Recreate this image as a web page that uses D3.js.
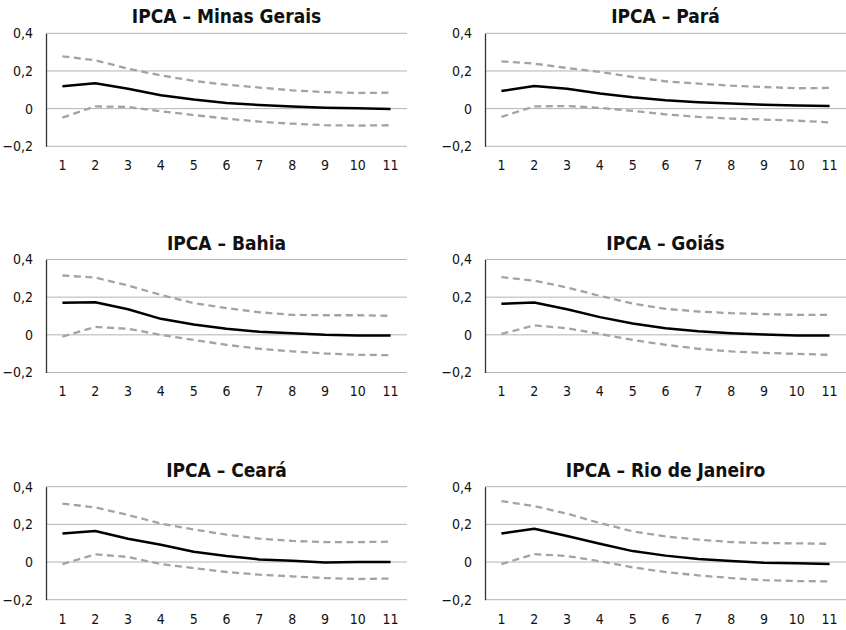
<!DOCTYPE html>
<meta charset="utf-8">
<title>IPCA impulse responses</title>
<style>
body { margin: 0; background: #fff; }
text { font-family: "DejaVu Sans Condensed", "Liberation Sans Narrow", sans-serif; }
</style>
<body>
<script src="https://d3js.org/d3.v7.min.js"></script>
<script>
var width = 846, height = 630;

var periods = [1, 2, 3, 4, 5, 6, 7, 8, 9, 10, 11];
var yTicks = [-0.2, 0, 0.2, 0.4];
var titles = ["IPCA – Minas Gerais", "IPCA – Pará", "IPCA – Bahia", "IPCA – Goiás", "IPCA – Ceará", "IPCA – Rio de Janeiro"];

// response, upper band, lower band for each state
var minasMid = [0.119, 0.135, 0.106, 0.071, 0.048, 0.030, 0.019, 0.011, 0.005, 0.002, -0.002];
var minasUp  = [0.278, 0.257, 0.212, 0.177, 0.147, 0.127, 0.112, 0.097, 0.088, 0.083, 0.085];
var minasLow = [-0.048, 0.012, 0.009, -0.014, -0.034, -0.053, -0.069, -0.080, -0.088, -0.090, -0.088];

var paraMid = [0.094, 0.120, 0.106, 0.080, 0.060, 0.044, 0.034, 0.027, 0.021, 0.016, 0.014];
var paraUp  = [0.251, 0.239, 0.216, 0.195, 0.168, 0.145, 0.133, 0.122, 0.115, 0.108, 0.110];
var paraLow = [-0.044, 0.012, 0.014, 0.004, -0.012, -0.030, -0.044, -0.053, -0.058, -0.064, -0.073];

var bahiaMid = [0.170, 0.173, 0.136, 0.085, 0.055, 0.032, 0.016, 0.009, 0.000, -0.004, -0.004];
var bahiaUp  = [0.315, 0.304, 0.262, 0.212, 0.168, 0.142, 0.120, 0.106, 0.104, 0.104, 0.101];
var bahiaLow = [-0.009, 0.042, 0.032, 0.000, -0.027, -0.053, -0.074, -0.088, -0.099, -0.106, -0.108];

var goiasMid = [0.165, 0.172, 0.136, 0.094, 0.060, 0.035, 0.019, 0.009, 0.002, -0.004, -0.004];
var goiasUp  = [0.306, 0.288, 0.251, 0.207, 0.166, 0.138, 0.124, 0.115, 0.110, 0.106, 0.106];
var goiasLow = [0.005, 0.050, 0.035, 0.005, -0.027, -0.053, -0.074, -0.088, -0.096, -0.101, -0.106];

var cearaMid = [0.152, 0.165, 0.124, 0.092, 0.055, 0.032, 0.014, 0.007, -0.002, 0.000, 0.000];
var cearaUp  = [0.310, 0.290, 0.250, 0.204, 0.173, 0.145, 0.124, 0.112, 0.106, 0.106, 0.108];
var cearaLow = [-0.011, 0.041, 0.027, -0.011, -0.032, -0.053, -0.067, -0.076, -0.085, -0.090, -0.088];

var rioMid = [0.152, 0.177, 0.138, 0.097, 0.058, 0.034, 0.016, 0.005, -0.004, -0.007, -0.011];
var rioUp  = [0.324, 0.297, 0.257, 0.207, 0.163, 0.136, 0.119, 0.106, 0.101, 0.099, 0.097];
var rioLow = [-0.011, 0.042, 0.032, 0.004, -0.028, -0.053, -0.071, -0.085, -0.096, -0.101, -0.103];

var panels = [
  [minasMid, minasUp, minasLow],
  [paraMid, paraUp, paraLow],
  [bahiaMid, bahiaUp, bahiaLow],
  [goiasMid, goiasUp, goiasLow],
  [cearaMid, cearaUp, cearaLow],
  [rioMid, rioUp, rioLow]
];

var svg = d3.select("body").append("svg")
    .attr("width", width)
    .attr("height", height);

var colLeft = [46, 485], plotW = 361;
var rowTop = [33.3, 259.5, 486.7], plotH = 113;

var fmt = function(d) { return d === 0 ? "0" : d3.format(".1f")(d).replace(".", ",").replace("-", "\u2212"); };

panels.forEach(function(p, i) {
  var col = i % 2, row = Math.floor(i / 2);
  var g = svg.append("g")
      .attr("transform", "translate(" + colLeft[col] + "," + rowTop[row] + ")");

  var x = d3.scaleBand().domain(periods).range([0, plotW]);
  var y = d3.scaleLinear().domain([-0.2, 0.4]).range([plotH, 0]);
  var cx = function(d, j) { return x(periods[j]) + x.bandwidth() / 2; };

  // gridlines
  g.selectAll("line.grid")
      .data(yTicks)
    .enter().append("line")
      .attr("class", "grid")
      .attr("x1", 0).attr("x2", plotW)
      .attr("y1", function(d) { return y(d); })
      .attr("y2", function(d) { return y(d); })
      .style("stroke", "#b4b4b4")
      .style("stroke-width", 1);

  // y axis
  var yAxis = d3.axisLeft(y).tickValues(yTicks).tickSize(0).tickPadding(13).tickFormat(fmt);
  var ya = g.append("g").call(yAxis);
  ya.select(".domain").style("stroke", "#333").style("stroke-width", 1.3);
  ya.selectAll("text").style("font-size", "14px").style("fill", "#111")
      .style("font-family", "'DejaVu Sans Condensed', sans-serif");

  // x axis labels
  var xAxis = d3.axisBottom(x).tickSize(0).tickPadding(14);
  var xa = g.append("g").attr("transform", "translate(0," + plotH + ")").call(xAxis);
  xa.select(".domain").remove();
  xa.selectAll("text").style("font-size", "14px").style("fill", "#111")
      .style("font-family", "'DejaVu Sans Condensed', sans-serif");

  var line = d3.line().x(cx).y(function(d) { return y(d); });

  [p[1], p[2]].forEach(function(band) {
    g.append("path")
        .datum(band)
        .attr("d", line)
        .style("fill", "none")
        .style("stroke", "#a3a3a3")
        .style("stroke-width", 2.3)
        .style("stroke-dasharray", "7,4.5");
  });

  g.append("path")
      .datum(p[0])
      .attr("d", line)
      .style("fill", "none")
      .style("stroke", "#000")
      .style("stroke-width", 2.5)
      .style("stroke-linejoin", "round");

  g.append("text")
      .attr("x", plotW / 2)
      .attr("y", -10)
      .attr("text-anchor", "middle")
      .style("font-size", "19px")
      .style("font-weight", "bold")
      .style("fill", "#111")
      .text(titles[i]);
});
</script>
